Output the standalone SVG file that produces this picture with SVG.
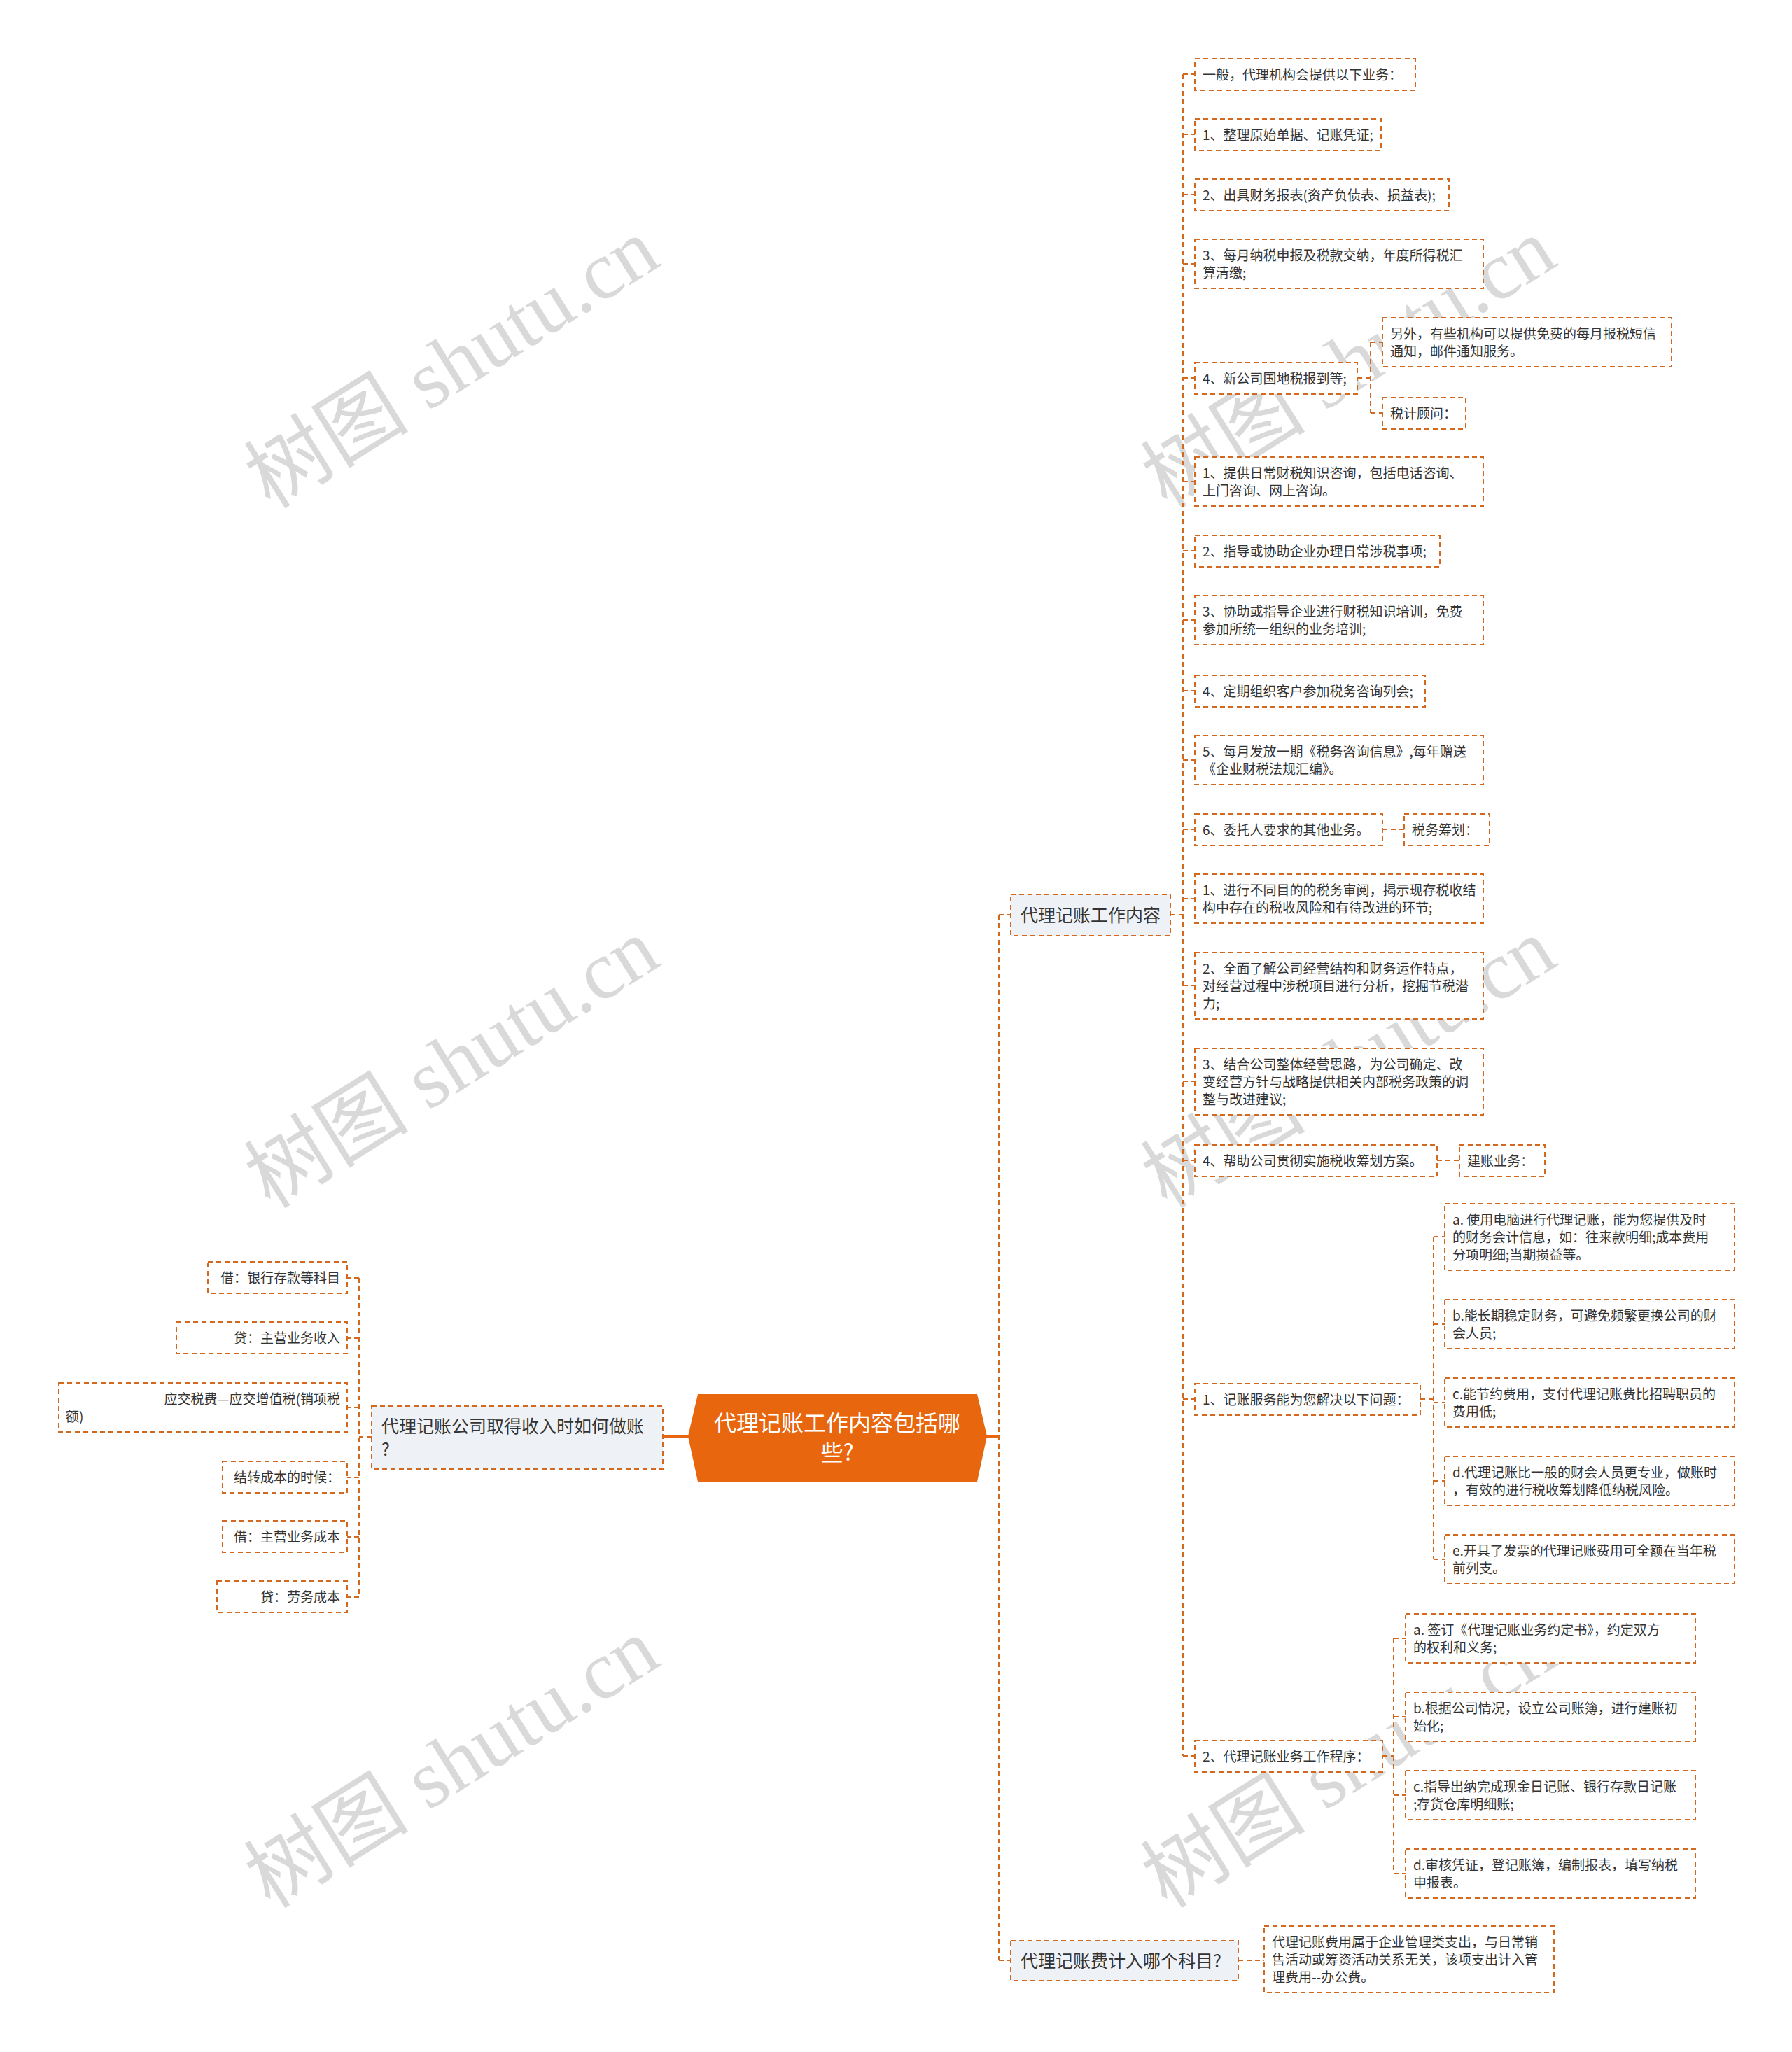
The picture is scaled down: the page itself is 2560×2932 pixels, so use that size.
<svg xmlns="http://www.w3.org/2000/svg" width="2560" height="2932" viewBox="0 0 2560 2932">
<style>
.bx{fill:#ffffff;stroke:#d2691e;stroke-width:2;stroke-dasharray:7 5}
.gb{fill:#eef1f5;stroke:#d2691e;stroke-width:2;stroke-dasharray:7 5}
.t{font-family:"Noto Sans CJK SC","Noto Sans",sans-serif;font-size:19px;fill:#333333}
.t2{font-family:"Noto Sans CJK SC","Noto Sans",sans-serif;font-size:25px;fill:#333333}
.ct{font-family:"Noto Sans CJK SC","Noto Sans",sans-serif;font-size:32px;fill:#ffffff}
.ln{fill:none;stroke:#d2691e;stroke-width:2;stroke-dasharray:7 5}
.sl{fill:none;stroke:#e8660d;stroke-width:4}
.wm{font-family:"Liberation Serif","Noto Sans CJK SC",serif;font-size:118px;fill:#d9d9d9}
</style>
<rect width="2560" height="2932" fill="#ffffff"/>
<g id="watermarks">
<text class="wm" x="645" y="518" text-anchor="middle" dy="0.35em" transform="rotate(-32 645 518)">树图 shutu.cn</text>
<text class="wm" x="645" y="1518" text-anchor="middle" dy="0.35em" transform="rotate(-32 645 1518)">树图 shutu.cn</text>
<text class="wm" x="645" y="2518" text-anchor="middle" dy="0.35em" transform="rotate(-32 645 2518)">树图 shutu.cn</text>
<text class="wm" x="1926" y="518" text-anchor="middle" dy="0.35em" transform="rotate(-32 1926 518)">树图 shutu.cn</text>
<text class="wm" x="1926" y="1518" text-anchor="middle" dy="0.35em" transform="rotate(-32 1926 1518)">树图 shutu.cn</text>
<text class="wm" x="1926" y="2518" text-anchor="middle" dy="0.35em" transform="rotate(-32 1926 2518)">树图 shutu.cn</text>
</g>
<g id="connectors">
<path class="sl" d="M948 2052H985M1408 2052H1427"/>
<path class="ln" d="M1427 1307V2801M1427 1307H1444M1427 2801H1444M1769 2801H1806"/>
<path class="ln" d="M1672 1307H1690M1690 106V2509"/>
<path class="ln" d="M1690 106H1707M1690 192H1707M1690 278H1707M1690 377H1707M1690 540H1707M1690 688H1707M1690 787H1707M1690 886H1707M1690 987H1707M1690 1086H1707M1690 1185H1707M1690 1284H1707M1690 1408H1707M1690 1545H1707M1690 1658H1707M1690 1999H1707M1690 2509H1707"/>
<path class="ln" d="M1939 540H1958M1958 489V590M1958 489H1975M1958 590H1975"/>
<path class="ln" d="M1975 1185H2006M2053 1658H2085"/>
<path class="ln" d="M2029 1999H2048M2048 1767V2228M2048 1767H2064M2048 1892H2064M2048 2004H2064M2048 2116H2064M2048 2228H2064"/>
<path class="ln" d="M1975 2509H1991M1991 2341V2677M1991 2341H2008M1991 2453H2008M1991 2565H2008M1991 2677H2008"/>
<path class="ln" d="M531 2053H513M513 1826V2282M513 1826H496M513 1912H496M513 2011H496M513 2111H496M513 2196H496M513 2282H496"/>
</g>
<g id="center">
<polygon points="997,1992 1396,1992 1410,2052 1396,2117 997,2117 983,2052" fill="#e8660d"/>
<text class="ct" x="1196" y="2045" text-anchor="middle">代理记账工作内容包括哪</text>
<text class="ct" x="1196" y="2087" text-anchor="middle">些?</text>
</g>
<g id="n-left">
<rect class="gb" x="531" y="2009" width="416" height="90"/>
<text class="t2" x="545" y="2047">代理记账公司取得收入时如何做账</text>
<text class="t2" x="545" y="2080">?</text>
</g>
<g id="l0"><rect class="bx" x="297" y="1803" width="199" height="45"/><text class="t" x="486" y="1833" text-anchor="end">借：银行存款等科目</text></g>
<g id="l1"><rect class="bx" x="252" y="1889" width="244" height="45"/><text class="t" x="486" y="1919" text-anchor="end">贷：主营业务收入</text></g>
<g id="l2"><rect class="bx" x="84" y="1976" width="412" height="70"/><text class="t" x="486" y="2006" text-anchor="end">应交税费—应交增值税(销项税</text><text class="t" x="94" y="2031">额)</text></g>
<g id="l3"><rect class="bx" x="318" y="2088" width="178" height="45"/><text class="t" x="486" y="2118" text-anchor="end">结转成本的时候：</text></g>
<g id="l4"><rect class="bx" x="318" y="2173" width="178" height="45"/><text class="t" x="486" y="2203" text-anchor="end">借：主营业务成本</text></g>
<g id="l5"><rect class="bx" x="310" y="2259" width="186" height="45"/><text class="t" x="486" y="2289" text-anchor="end">贷：劳务成本</text></g>
<g id="n-work">
<rect class="gb" x="1444" y="1278" width="228" height="59"/>
<text class="t2" x="1458" y="1317">代理记账工作内容</text>
</g>
<g id="n-fee">
<rect class="gb" x="1444" y="2773" width="325" height="57"/>
<text class="t2" x="1458" y="2811">代理记账费计入哪个科目?</text>
</g>
<g id="n-fee-a"><rect class="bx" x="1806" y="2752" width="414" height="95"/><text class="t" x="1817" y="2782">代理记账费用属于企业管理类支出，与日常销</text><text class="t" x="1817" y="2807">售活动或筹资活动关系无关，该项支出计入管</text><text class="t" x="1817" y="2832">理费用--办公费。</text></g>
<g id="r0"><rect class="bx" x="1707" y="84" width="315" height="45"/><text class="t" x="1718" y="114">一般，代理机构会提供以下业务：</text></g>
<g id="r1"><rect class="bx" x="1707" y="170" width="266" height="45"/><text class="t" x="1718" y="200">1、整理原始单据、记账凭证;</text></g>
<g id="r2"><rect class="bx" x="1707" y="256" width="363" height="45"/><text class="t" x="1718" y="286">2、出具财务报表(资产负债表、损益表);</text></g>
<g id="r3"><rect class="bx" x="1707" y="342" width="412" height="70"/><text class="t" x="1718" y="372">3、每月纳税申报及税款交纳，年度所得税汇</text><text class="t" x="1718" y="397">算清缴;</text></g>
<g id="r4"><rect class="bx" x="1707" y="518" width="232" height="45"/><text class="t" x="1718" y="548">4、新公司国地税报到等;</text></g>
<g id="r4a"><rect class="bx" x="1975" y="454" width="413" height="70"/><text class="t" x="1986" y="484">另外，有些机构可以提供免费的每月报税短信</text><text class="t" x="1986" y="509">通知，邮件通知服务。</text></g>
<g id="r4b"><rect class="bx" x="1975" y="568" width="119" height="45"/><text class="t" x="1986" y="598">税计顾问：</text></g>
<g id="r5"><rect class="bx" x="1707" y="653" width="412" height="70"/><text class="t" x="1718" y="683">1、提供日常财税知识咨询，包括电话咨询、</text><text class="t" x="1718" y="708">上门咨询、网上咨询。</text></g>
<g id="r6"><rect class="bx" x="1707" y="765" width="350" height="45"/><text class="t" x="1718" y="795">2、指导或协助企业办理日常涉税事项;</text></g>
<g id="r7"><rect class="bx" x="1707" y="851" width="412" height="70"/><text class="t" x="1718" y="881">3、协助或指导企业进行财税知识培训，免费</text><text class="t" x="1718" y="906">参加所统一组织的业务培训;</text></g>
<g id="r8"><rect class="bx" x="1707" y="965" width="329" height="45"/><text class="t" x="1718" y="995">4、定期组织客户参加税务咨询列会;</text></g>
<g id="r9"><rect class="bx" x="1707" y="1051" width="412" height="70"/><text class="t" x="1718" y="1081">5、每月发放一期《税务咨询信息》,每年赠送</text><text class="t" x="1718" y="1106">《企业财税法规汇编》。</text></g>
<g id="r10"><rect class="bx" x="1707" y="1163" width="268" height="45"/><text class="t" x="1718" y="1193">6、委托人要求的其他业务。</text></g>
<g id="r10a"><rect class="bx" x="2006" y="1163" width="122" height="45"/><text class="t" x="2017" y="1193">税务筹划：</text></g>
<g id="r11"><rect class="bx" x="1707" y="1249" width="412" height="70"/><text class="t" x="1718" y="1279">1、进行不同目的的税务审阅，揭示现存税收结</text><text class="t" x="1718" y="1304">构中存在的税收风险和有待改进的环节;</text></g>
<g id="r12"><rect class="bx" x="1707" y="1361" width="412" height="95"/><text class="t" x="1718" y="1391">2、全面了解公司经营结构和财务运作特点，</text><text class="t" x="1718" y="1416">对经营过程中涉税项目进行分析，挖掘节税潜</text><text class="t" x="1718" y="1441">力;</text></g>
<g id="r13"><rect class="bx" x="1707" y="1498" width="412" height="95"/><text class="t" x="1718" y="1528">3、结合公司整体经营思路，为公司确定、改</text><text class="t" x="1718" y="1553">变经营方针与战略提供相关内部税务政策的调</text><text class="t" x="1718" y="1578">整与改进建议;</text></g>
<g id="r14"><rect class="bx" x="1707" y="1636" width="346" height="45"/><text class="t" x="1718" y="1666">4、帮助公司贯彻实施税收筹划方案。</text></g>
<g id="r14a"><rect class="bx" x="2085" y="1636" width="122" height="45"/><text class="t" x="2096" y="1666">建账业务：</text></g>
<g id="r15"><rect class="bx" x="1707" y="1977" width="322" height="45"/><text class="t" x="1718" y="2007">1、记账服务能为您解决以下问题：</text></g>
<g id="r15a"><rect class="bx" x="2064" y="1720" width="414" height="95"/><text class="t" x="2075" y="1750">a. 使用电脑进行代理记账，能为您提供及时</text><text class="t" x="2075" y="1775">的财务会计信息，如：往来款明细;成本费用</text><text class="t" x="2075" y="1800">分项明细;当期损益等。</text></g>
<g id="r15b"><rect class="bx" x="2064" y="1857" width="414" height="70"/><text class="t" x="2075" y="1887">b.能长期稳定财务，可避免频繁更换公司的财</text><text class="t" x="2075" y="1912">会人员;</text></g>
<g id="r15c"><rect class="bx" x="2064" y="1969" width="414" height="70"/><text class="t" x="2075" y="1999">c.能节约费用，支付代理记账费比招聘职员的</text><text class="t" x="2075" y="2024">费用低;</text></g>
<g id="r15d"><rect class="bx" x="2064" y="2081" width="414" height="70"/><text class="t" x="2075" y="2111">d.代理记账比一般的财会人员更专业，做账时</text><text class="t" x="2075" y="2136">，有效的进行税收筹划降低纳税风险。</text></g>
<g id="r15e"><rect class="bx" x="2064" y="2193" width="414" height="70"/><text class="t" x="2075" y="2223">e.开具了发票的代理记账费用可全额在当年税</text><text class="t" x="2075" y="2248">前列支。</text></g>
<g id="r16"><rect class="bx" x="1707" y="2487" width="268" height="45"/><text class="t" x="1718" y="2517">2、代理记账业务工作程序：</text></g>
<g id="r16a"><rect class="bx" x="2008" y="2306" width="414" height="70"/><text class="t" x="2019" y="2336">a. 签订《代理记账业务约定书》，约定双方</text><text class="t" x="2019" y="2361">的权利和义务;</text></g>
<g id="r16b"><rect class="bx" x="2008" y="2418" width="414" height="70"/><text class="t" x="2019" y="2448">b.根据公司情况，设立公司账簿，进行建账初</text><text class="t" x="2019" y="2473">始化;</text></g>
<g id="r16c"><rect class="bx" x="2008" y="2530" width="414" height="70"/><text class="t" x="2019" y="2560">c.指导出纳完成现金日记账、银行存款日记账</text><text class="t" x="2019" y="2585">;存货仓库明细账;</text></g>
<g id="r16d"><rect class="bx" x="2008" y="2642" width="414" height="70"/><text class="t" x="2019" y="2672">d.审核凭证，登记账簿，编制报表，填写纳税</text><text class="t" x="2019" y="2697">申报表。</text></g>
</svg>
